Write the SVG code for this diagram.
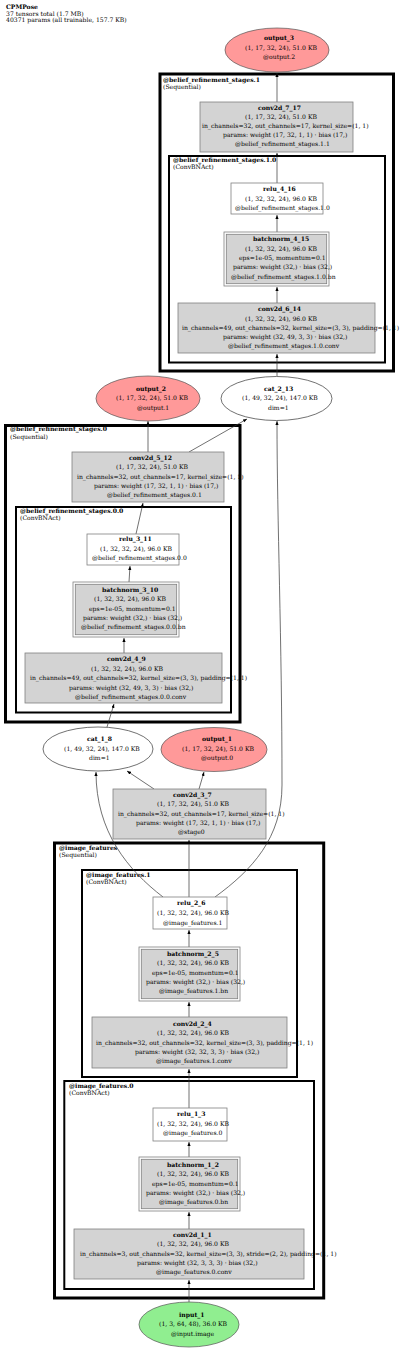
<svg xmlns="http://www.w3.org/2000/svg" width="400" height="1350" viewBox="0 0 400 1350">
<style>
text{font-family:"DejaVu Serif","Liberation Serif",serif;font-size:6.1px;fill:#000}
.b{font-weight:bold}
.box{fill:#d3d3d3;stroke:#808080;stroke-width:0.8}
.wbox{fill:#fff;stroke:#808080;stroke-width:0.8}
.ob{fill:#fff;stroke:#808080;stroke-width:0.8}
.cl{fill:none;stroke:#000;stroke-width:3}
.cl2{fill:none;stroke:#000;stroke-width:2}
.out{fill:#f99;stroke:#555;stroke-width:0.7}
.cat{fill:#fff;stroke:#333;stroke-width:0.7}
.inp{fill:#90ee90;stroke:#555;stroke-width:0.7}
.e{fill:none;stroke:#333;stroke-width:0.7;marker-end:url(#a)}
</style>
<defs>
<marker id="a" markerUnits="userSpaceOnUse" markerWidth="5" markerHeight="4" refX="4" refY="1.6" orient="auto"><path d="M0,0L4,1.6L0,3.2z" fill="#000"/></marker>
</defs>
<rect width="400" height="1350" fill="#fff"/>
<g id="header">
<text x="6" y="8.5" class="b">CPMPose</text>
<text x="6" y="15.5">37 tensors total (1.7 MB)</text>
<text x="6" y="22.2">40371 params (all trainable, 157.7 KB)</text>
</g>
<g id="clusters">
<g id="cluster_brs1"><rect class="cl" x="160" y="74" width="233.5" height="297"/><text x="163" y="82.2" class="b">@belief_refinement_stages.1</text><text x="163" y="88.5">(Sequential)</text></g>
<g id="cluster_brs1_0"><rect class="cl2" x="169" y="156" width="216" height="206.5"/><text x="173" y="162.2" class="b">@belief_refinement_stages.1.0</text><text x="173" y="169.2">(ConvBNAct)</text></g>
<g id="cluster_brs0"><rect class="cl" x="5.5" y="425.5" width="234.5" height="296.5"/><text x="10" y="431.2" class="b">@belief_refinement_stages.0</text><text x="10" y="439">(Sequential)</text></g>
<g id="cluster_brs0_0"><rect class="cl2" x="16" y="507" width="215" height="205.5"/><text x="20" y="513.2" class="b">@belief_refinement_stages.0.0</text><text x="20" y="520.2">(ConvBNAct)</text></g>
<g id="cluster_if"><rect class="cl" x="54.5" y="843" width="269.2" height="455"/><text x="59" y="850" class="b">@image_features</text><text x="59" y="856.5">(Sequential)</text></g>
<g id="cluster_if1"><rect class="cl2" x="82" y="870" width="215" height="207"/><text x="86" y="877.2" class="b">@image_features.1</text><text x="86" y="884.2">(ConvBNAct)</text></g>
<g id="cluster_if0"><rect class="cl2" x="64.3" y="1081" width="249.7" height="208"/><text x="69" y="1088.2" class="b">@image_features.0</text><text x="69" y="1095.2">(ConvBNAct)</text></g>
</g>
<g id="edges">
<path class="e" d="M189,1302V1280"/>
<path class="e" d="M189,1229V1212"/>
<path class="e" d="M189,1157V1142"/>
<path class="e" d="M189,1108V1069"/>
<path class="e" d="M189,1017V1002"/>
<path class="e" d="M189,947V930"/>
<path class="e" d="M189,897V840"/>
<path class="e" d="M163,897C128,870 96,832 96,772"/>
<path class="e" d="M215,897C252,870 282,838 282,785C282,640 277,520 277,421"/>
<path class="e" d="M154,789L127,771"/>
<path class="e" d="M199,789L204,772"/>
<path class="e" d="M107,727L114,704"/>
<path class="e" d="M124,653V638"/>
<path class="e" d="M129,582L130,566"/>
<path class="e" d="M136,534L143,503"/>
<path class="e" d="M148,452V421"/>
<path class="e" d="M189,452L247,419"/>
<path class="e" d="M277,376V354"/>
<path class="e" d="M277,303V287"/>
<path class="e" d="M277,232V215"/>
<path class="e" d="M277,183V153"/>
<path class="e" d="M277,102V73"/>
</g>
<g id="output_3"><ellipse class="out" cx="277" cy="50" rx="52" ry="22"/><text x="264" y="40.2" class="b">output_3</text><text x="245" y="50.2">(1, 17, 32, 24), 51.0 KB</text><text x="263" y="59.2">@output.2</text></g>
<g id="conv2d_7_17"><rect class="box" x="200" y="102" width="153" height="50"/><text x="258" y="110.2" class="b">conv2d_7_17</text><text x="245" y="119.2">(1, 17, 32, 24), 51.0 KB</text><text x="202" y="128.2">in_channels=32, out_channels=17, kernel_size=(1, 1)</text><text x="223" y="137.2">params: weight (17, 32, 1, 1) · bias (17,)</text><text x="235" y="146.2">@belief_refinement_stages.1.1</text></g>
<g id="relu_4_16"><rect class="wbox" x="231" y="183" width="92" height="31"/><text x="263" y="191.2" class="b">relu_4_16</text><text x="245" y="201.2">(1, 32, 32, 24), 96.0 KB</text><text x="235" y="210.2">@belief_refinement_stages.1.0</text></g>
<g id="batchnorm_4_15"><rect class="ob" x="224" y="232" width="105" height="54"/><rect class="box" x="226.3" y="234.3" width="100.4" height="49.4"/><text x="253" y="241.2" class="b">batchnorm_4_15</text><text x="245" y="251.2">(1, 32, 32, 24), 96.0 KB</text><text x="239" y="260.2">eps=1e-05, momentum=0.1</text><text x="233" y="269.2">params: weight (32,) · bias (32,)</text><text x="231" y="279.2">@belief_refinement_stages.1.0.bn</text></g>
<g id="conv2d_6_14"><rect class="box" x="178" y="303" width="197" height="50"/><text x="258" y="311.2" class="b">conv2d_6_14</text><text x="245" y="321.2">(1, 32, 32, 24), 96.0 KB</text><text x="182" y="330.2">in_channels=49, out_channels=32, kernel_size=(3, 3), padding=(1, 1)</text><text x="223" y="339.2">params: weight (32, 49, 3, 3) · bias (32,)</text><text x="228" y="348.2">@belief_refinement_stages.1.0.conv</text></g>
<g id="cat_2_13"><ellipse class="cat" cx="276.5" cy="398.5" rx="55.5" ry="22"/><text x="264" y="391.2" class="b">cat_2_13</text><text x="242" y="400.2">(1, 49, 32, 24), 147.0 KB</text><text x="268" y="410.2">dim=1</text></g>
<g id="output_2"><ellipse class="out" cx="148" cy="398.5" rx="52" ry="22.5"/><text x="136" y="391.2" class="b">output_2</text><text x="116" y="400.2">(1, 17, 32, 24), 51.0 KB</text><text x="137" y="410.2">@output.1</text></g>
<g id="conv2d_5_12"><rect class="box" x="72" y="452" width="152" height="50"/><text x="129" y="460.2" class="b">conv2d_5_12</text><text x="116" y="469.2">(1, 17, 32, 24), 51.0 KB</text><text x="77" y="479.2">in_channels=32, out_channels=17, kernel_size=(1, 1)</text><text x="94" y="488.2">params: weight (17, 32, 1, 1) · bias (17,)</text><text x="107" y="497.2">@belief_refinement_stages.0.1</text></g>
<g id="relu_3_11"><rect class="wbox" x="87" y="534" width="92" height="31"/><text x="119" y="541.2" class="b">relu_3_11</text><text x="100" y="551.2">(1, 32, 32, 24), 96.0 KB</text><text x="92" y="560.2">@belief_refinement_stages.0.0</text></g>
<g id="batchnorm_3_10"><rect class="ob" x="73" y="582" width="106" height="55"/><rect class="box" x="75.3" y="584.3" width="101.4" height="50.4"/><text x="102" y="592.2" class="b">batchnorm_3_10</text><text x="94" y="601.2">(1, 32, 32, 24), 96.0 KB</text><text x="89" y="611.2">eps=1e-05, momentum=0.1</text><text x="83" y="620.2">params: weight (32,) · bias (32,)</text><text x="81" y="629.2">@belief_refinement_stages.0.0.bn</text></g>
<g id="conv2d_4_9"><rect class="box" x="25" y="653" width="197" height="50"/><text x="107" y="661.2" class="b">conv2d_4_9</text><text x="91" y="671.2">(1, 32, 32, 24), 96.0 KB</text><text x="30" y="680.2">in_channels=49, out_channels=32, kernel_size=(3, 3), padding=(1, 1)</text><text x="69" y="690.2">params: weight (32, 49, 3, 3) · bias (32,)</text><text x="75" y="699.2">@belief_refinement_stages.0.0.conv</text></g>
<g id="cat_1_8"><ellipse class="cat" cx="98" cy="749" rx="55" ry="22"/><text x="87" y="741.2" class="b">cat_1_8</text><text x="64" y="751.2">(1, 49, 32, 24), 147.0 KB</text><text x="89" y="760.2">dim=1</text></g>
<g id="output_1"><ellipse class="out" cx="214" cy="749.5" rx="53" ry="22"/><text x="202" y="741.2" class="b">output_1</text><text x="182" y="751.2">(1, 17, 32, 24), 51.0 KB</text><text x="201" y="760.2">@output.0</text></g>
<g id="conv2d_3_7"><rect class="box" x="113" y="789" width="153" height="50"/><text x="173" y="797.2" class="b">conv2d_3_7</text><text x="157" y="806.2">(1, 17, 32, 24), 51.0 KB</text><text x="118" y="816.2">in_channels=32, out_channels=17, kernel_size=(1, 1)</text><text x="136" y="825.2">params: weight (17, 32, 1, 1) · bias (17,)</text><text x="178" y="834.2">@stage0</text></g>
<g id="relu_2_6"><rect class="wbox" x="153" y="897" width="74" height="32"/><text x="177" y="905.2" class="b">relu_2_6</text><text x="157" y="915.2">(1, 32, 32, 24), 96.0 KB</text><text x="163" y="925.2">@image_features.1</text></g>
<g id="batchnorm_2_5"><rect class="ob" x="139" y="947" width="101" height="54"/><rect class="box" x="141.3" y="949.3" width="96.4" height="49.4"/><text x="167" y="956.2" class="b">batchnorm_2_5</text><text x="157" y="965.2">(1, 32, 32, 24), 96.0 KB</text><text x="152" y="975.2">eps=1e-05, momentum=0.1</text><text x="146" y="984.2">params: weight (32,) · bias (32,)</text><text x="159" y="993.2">@image_features.1.bn</text></g>
<g id="conv2d_2_4"><rect class="box" x="92" y="1017" width="195" height="51"/><text x="173" y="1026.2" class="b">conv2d_2_4</text><text x="157" y="1035.2">(1, 32, 32, 24), 96.0 KB</text><text x="96" y="1045.2">in_channels=32, out_channels=32, kernel_size=(3, 3), padding=(1, 1)</text><text x="135" y="1054.2">params: weight (32, 32, 3, 3) · bias (32,)</text><text x="156" y="1063.2">@image_features.1.conv</text></g>
<g id="relu_1_3"><rect class="wbox" x="153" y="1108" width="74" height="33"/><text x="177" y="1116.2" class="b">relu_1_3</text><text x="157" y="1126.2">(1, 32, 32, 24), 96.0 KB</text><text x="163" y="1135.2">@image_features.0</text></g>
<g id="batchnorm_1_2"><rect class="ob" x="139" y="1157" width="101" height="54"/><rect class="box" x="141.3" y="1159.3" width="96.4" height="49.4"/><text x="167" y="1167.2" class="b">batchnorm_1_2</text><text x="157" y="1176.2">(1, 32, 32, 24), 96.0 KB</text><text x="152" y="1186.2">eps=1e-05, momentum=0.1</text><text x="146" y="1195.2">params: weight (32,) · bias (32,)</text><text x="159" y="1204.2">@image_features.0.bn</text></g>
<g id="conv2d_1_1"><rect class="box" x="74" y="1229" width="230" height="50"/><text x="173" y="1237.2" class="b">conv2d_1_1</text><text x="157" y="1246.2">(1, 32, 32, 24), 96.0 KB</text><text x="80" y="1256.2">in_channels=3, out_channels=32, kernel_size=(3, 3), stride=(2, 2), padding=(1, 1)</text><text x="137" y="1265.2">params: weight (32, 3, 3, 3) · bias (32,)</text><text x="156" y="1274.2">@image_features.0.conv</text></g>
<g id="input_1"><ellipse class="inp" cx="189" cy="1324.5" rx="50" ry="22.5"/><text x="179" y="1317.2" class="b">input_1</text><text x="159" y="1326.2">(1, 3, 64, 48), 36.0 KB</text><text x="171" y="1336.2">@input.image</text></g>
</svg>
